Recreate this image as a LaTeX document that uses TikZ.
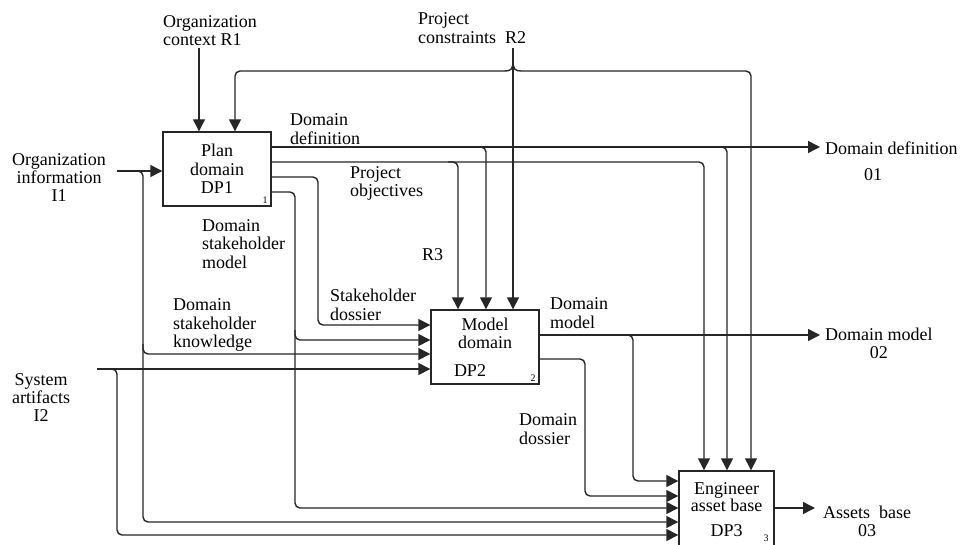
\documentclass[tikz,border=0pt]{standalone}
\usepackage{fontspec}
\setmainfont{Liberation Serif}
\usetikzlibrary{arrows.meta}
\begin{document}
\begin{tikzpicture}[x=1pt,y=-1pt,
  line/.style={line width=1.4pt, draw=black!85, rounded corners=5pt},
  arr/.style={line, -{Triangle[length=12pt,width=12pt]}},
  box/.style={draw=black!85, line width=1.4pt, rectangle, inner sep=0pt, align=center, font=\fontsize{18}{18.5}\selectfont},
  lbl/.style={inner sep=0pt, font=\fontsize{18}{18.5}\selectfont, align=left, anchor=west},
  clbl/.style={inner sep=0pt, font=\fontsize{18}{17.5}\selectfont, align=center, anchor=west},
  num/.style={inner sep=0pt, font=\fontsize{10}{10}\selectfont}]
\useasboundingbox (0,0) rectangle (963,545);
\fill[white] (0,0) rectangle (963,545);

% boxes
\node[box, minimum width=108pt, minimum height=74pt] (dp1) at (217,169) {Plan\\domain\\DP1};
\node[box, minimum width=108pt, minimum height=74pt] (dp2) at (485,347) {Model\\domain\\[9pt]\hspace*{-30pt}DP2};
\node[box, minimum width=95pt, minimum height=78pt, font=\fontsize{18}{17}\selectfont] (dp3) at (726.5,510) {Engineer\\asset base\\[8pt]DP3};
\node[num, anchor=south east] (n1) at ([shift={(-4pt,3pt)}]dp1.south east) {1};
\node[num, anchor=south east] (n2) at ([shift={(-4pt,3pt)}]dp2.south east) {2};
\node[num, anchor=south east] (n3) at ([shift={(-6pt,8pt)}]dp3.south east) {3};

% free ends and bends
\coordinate (r1) at (199,48);
\coordinate (r2) at (513,48);
\coordinate (bj) at (513,61);
\coordinate (fbL) at (505,71);
\coordinate (fbC) at (235,71);
\coordinate (fbR) at (521,71);
\coordinate (fbD) at (751,71);
\coordinate (i1) at (117,171);
\coordinate (i2) at (97,369);
\coordinate (o1) at (820,147);
\coordinate (o2) at (820,335);
\coordinate (o3) at (815,508);

% controls
\draw[arr] (r1) -- (r1 |- dp1.north);
\draw[arr] (r2) -- (r2 |- dp2.north);
\draw[line] (bj) .. controls (513,69) and (511,71) .. (fbL);
\draw[line] (bj) .. controls (513,69) and (515,71) .. (fbR);
\draw[arr] (fbL) -- (fbC) -- (fbC |- dp1.north);
\draw[arr] (fbR) -- (fbD) -- (fbD |- dp3.north);

% domain definition
\coordinate (dd2) at (486,147);
\coordinate (dd3) at (727,147);
\draw[arr] (dp1.east |- o1) -- (o1);
\draw[arr] ([xshift=-10pt]dd2) -- (dd2) -- (dd2 |- dp2.north);
\draw[arr] ([xshift=-10pt]dd3) -- (dd3) -- (dd3 |- dp3.north);

% project objectives
\coordinate (po2) at (458,162);
\coordinate (po3) at (704,162);
\draw[arr] (dp1.east |- po3) -- (po3) -- (po3 |- dp3.north);
\draw[arr] ([xshift=-10pt]po2) -- (po2) -- (po2 |- dp2.north);

% stakeholder dossier
\coordinate (sd) at (318,177);
\coordinate (sdd) at (318,325);
\draw[arr] (dp1.east |- sd) -- (sd) -- (sdd) -- (sdd -| dp2.west);

% domain stakeholder model
\coordinate (sm) at (295,192);
\coordinate (smb) at (295,340);
\coordinate (smd) at (295,508);
\draw[arr] (dp1.east |- sm) -- (sm) -- (smd) -- (smd -| dp3.west);
\draw[arr] ([yshift=10pt]smb) -- (smb) -- (smb -| dp2.west);

% organization information
\coordinate (i1b) at (143,171);
\coordinate (i1c) at (143,354);
\coordinate (i1d) at (143,522);
\draw[arr] (i1) -- (i1 -| dp1.west);
\draw[arr] ([xshift=-8pt]i1b) -- (i1b) -- (i1d) -- (i1d -| dp3.west);
\draw[arr] ([yshift=10pt]i1c) -- (i1c) -- (i1c -| dp2.west);

% system artifacts
\coordinate (i2b) at (117,369);
\coordinate (i2d) at (117,535);
\draw[arr] (i2) -- (i2 -| dp2.west);
\draw[arr] ([xshift=-8pt]i2b) -- (i2b) -- (i2d) -- (i2d -| dp3.west);

% domain model
\coordinate (dmy) at (633,335);
\coordinate (dmd) at (633,481);
\draw[arr] (dp2.east |- o2) -- (o2);
\draw[arr] ([xshift=-8pt]dmy) -- (dmy) -- (dmd) -- (dmd -| dp3.west);

% domain dossier
\coordinate (dsy) at (585,359);
\coordinate (dsd) at (585,496);
\draw[arr] (dp2.east |- dsy) -- (dsy) -- (dsd) -- (dsd -| dp3.west);

% assets base
\draw[arr] (dp3.east |- o3) -- (o3);

% labels
\node[lbl] (lr1) at (163,30.5) {Organization\\context R1};
\node[lbl] (lr2) at (418,28) {Project\\constraints\ \ R2};
\node[clbl, font=\fontsize{18}{18}\selectfont] (li1) at (12,177.5) {Organization\\information\\I1};
\node[clbl, font=\fontsize{18}{18}\selectfont] (li2) at (12,398) {System\\artifacts\\I2};
\node[lbl] (ldd) at (290,129) {Domain\\definition};
\node[lbl] (lpo) at (350,183.5) {Project\\objectives};
\node[lbl] (lsm) at (202,244) {Domain\\stakeholder\\model};
\node[lbl] (lr3) at (422,255) {R3};
\node[lbl] (lsd) at (330,305) {Stakeholder\\dossier};
\node[lbl] (lsk) at (173,325) {Domain\\stakeholder\\knowledge};
\node[lbl] (ldm) at (550,313) {Domain\\model};
\node[lbl] (lds) at (519,429) {Domain\\dossier};
\node[lbl] (lo1) at (825,148) {Domain definition};
\node[inner sep=0pt, font=\fontsize{18}{18}\selectfont] (lo1n) at (873,175) {01};
\node[clbl] (lo2) at (825,343.5) {Domain model\\02};
\node[clbl] (lo3) at (823,521.5) {Assets\ \ base\\03};
\end{tikzpicture}
\end{document}
